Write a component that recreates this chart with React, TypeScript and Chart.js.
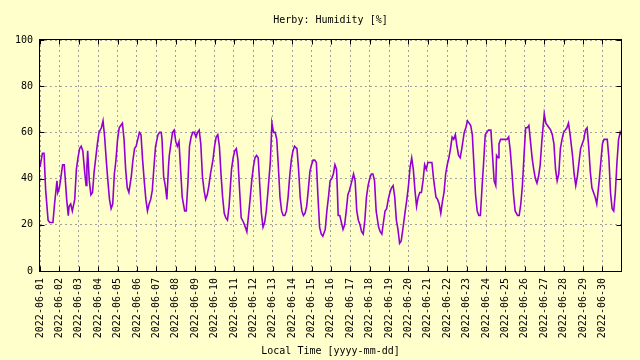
import React, { useEffect, useRef } from 'react';
import { Chart, registerables } from 'chart.js';

Chart.register(...registerables);

const TITLE = 'Herby: Humidity [%]';
const X_TITLE = 'Local Time [yyyy-mm-dd]';

const DAY_LABELS = [
  '2022-06-01', '2022-06-02', '2022-06-03', '2022-06-04', '2022-06-05',
  '2022-06-06', '2022-06-07', '2022-06-08', '2022-06-09', '2022-06-10',
  '2022-06-11', '2022-06-12', '2022-06-13', '2022-06-14', '2022-06-15',
  '2022-06-16', '2022-06-17', '2022-06-18', '2022-06-19', '2022-06-20',
  '2022-06-21', '2022-06-22', '2022-06-23', '2022-06-24', '2022-06-25',
  '2022-06-26', '2022-06-27', '2022-06-28', '2022-06-29', '2022-06-30',
];

const Y_TICKS = [0, 20, 40, 60, 80, 100];

// hours since 2022-06-01 00:00 local time
const HOURS = [
  0, 3, 5, 7, 10, 12, 16, 18, 21, 22, 24, 26, 28, 30, 31, 33, 35, 36, 38, 40,
  43, 45, 47, 49, 51, 53, 55, 57, 58, 59, 61, 63, 65, 67, 69, 71, 73, 76, 78, 80,
  82, 84, 86, 88, 90, 92, 94, 96, 98, 100, 102, 104, 106, 108, 110, 113, 115, 117, 119, 121,
  123, 125, 127, 129, 131, 133, 135, 137, 139, 141, 143, 146, 148, 150, 151, 153, 155, 157, 159, 160,
  162, 164, 166, 168, 170, 172, 174, 176, 179, 181, 183, 185, 187, 189, 191, 193, 195, 197, 199, 201,
  203, 205, 207, 209, 211, 214, 216, 218, 220, 222, 224, 226, 228, 230, 232, 234, 237, 239, 241, 243,
  245, 247, 249, 252, 254, 256, 258, 260, 262, 264, 266, 268, 270, 272, 274, 276, 278, 280, 282, 285,
  287, 289, 291, 293, 295, 297, 299, 301, 303, 305, 307, 309, 311, 313, 315, 318, 320, 322, 324, 326,
  328, 330, 332, 334, 336, 338, 340, 342, 344, 346, 348, 350, 353, 355, 357, 359, 361, 363, 365, 367,
  368, 369, 371, 373, 375, 377, 379, 381, 383, 386, 388, 390, 392, 394, 396, 398, 400, 402, 404, 406,
  408, 410, 412, 414, 416, 419, 421, 423, 425, 427, 429, 431, 433, 435, 437, 439, 441, 443, 445, 447,
  449, 452, 454, 456, 458, 460, 462, 464, 466, 468, 470, 472, 474, 476, 478, 480, 483, 485, 487, 490,
  492, 494, 496, 498, 500, 502, 504, 506, 508, 510, 512, 514, 516, 518, 520, 522, 525, 527, 529, 531,
  533, 535, 537, 539, 541, 543, 545, 547, 549, 551, 553, 555, 558, 560, 562, 564, 565, 567, 568, 570,
  572, 574, 576, 578, 580, 582, 584, 586, 588, 591, 593, 595, 597, 599, 601, 603, 605, 607, 609, 611,
  613, 615, 617, 619, 621, 624, 626, 628, 630, 632, 634, 636, 638, 640, 642, 644, 646, 648, 650, 652,
  654, 656, 659, 661, 663, 665, 667, 669, 671, 673, 675, 677, 679, 681, 683, 685, 687, 689, 692, 694,
  696, 698, 700, 702, 704, 706, 708, 710, 712, 714, 716, 718, 719,
];

const HUMIDITY = [
  45, 51, 51, 35, 22, 21, 21, 29, 39, 34, 36, 41, 46, 46, 41, 31, 24, 28, 29, 26,
  31, 44, 49, 53, 54, 52, 44, 37, 45, 52, 39, 33, 34, 43, 49, 55, 60, 62, 65, 58,
  48, 39, 31, 27, 29, 42, 48, 57, 62, 63, 64, 57, 44, 36, 34, 41, 48, 53, 54, 57,
  60, 59, 48, 39, 31, 26, 29, 31, 35, 45, 54, 59, 60, 60, 57, 41, 37, 31, 45, 50,
  55, 60, 61, 56, 54, 56, 44, 32, 26, 26, 38, 54, 58, 60, 60, 58, 60, 61, 55, 41,
  35, 31, 33, 37, 42, 48, 54, 58, 59, 54, 42, 32, 25, 23, 22, 28, 44, 49, 52, 53,
  48, 35, 23, 21, 19, 17, 24, 31, 39, 45, 49, 50, 49, 37, 25, 19, 21, 26, 34, 47,
  64, 60, 60, 57, 45, 32, 26, 24, 24, 26, 32, 41, 48, 52, 54, 53, 44, 32, 26, 24,
  25, 28, 35, 43, 46, 48, 48, 47, 32, 19, 16, 15, 18, 26, 32, 39, 40, 42, 46, 44,
  35, 24, 24, 21, 18, 20, 26, 33, 35, 39, 42, 39, 26, 22, 20, 17, 16, 22, 32, 37,
  40, 42, 42, 39, 26, 19, 17, 16, 21, 26, 27, 31, 34, 36, 37, 32, 22, 18, 12, 13,
  18, 26, 31, 37, 45, 49, 44, 35, 28, 32, 34, 34, 39, 46, 44, 47, 47, 47, 40, 32,
  31, 29, 25, 30, 34, 42, 46, 49, 53, 58, 57, 59, 54, 50, 49, 53, 60, 62, 65, 64,
  63, 59, 46, 33, 26, 24, 24, 36, 47, 59, 60, 61, 61, 50, 39, 37, 50, 49, 55, 57,
  57, 57, 57, 57, 58, 52, 43, 33, 26, 24, 24, 29, 37, 50, 62, 62, 63, 56, 49, 44,
  40, 38, 41, 46, 56, 68, 64, 63, 62, 61, 59, 55, 44, 39, 42, 53, 57, 60, 61, 62,
  64, 59, 50, 42, 37, 41, 47, 53, 55, 57, 61, 62, 54, 43, 36, 34, 32, 29, 39, 47,
  55, 57, 57, 57, 49, 34, 27, 26, 34, 47, 57, 60, 59,
];

const X_MAX = 719;
const FONT = 'DejaVu Sans Mono';
const BG = '#ffffcc';

export default function App() {
  const ref = useRef<HTMLCanvasElement>(null);

  useEffect(() => {
    const canvas = ref.current;
    if (!canvas) return;
    const points = HOURS.map((h, i) => ({ x: h, y: HUMIDITY[i] }));

    const gnuplotFrame = {
      id: 'gnuplotFrame',
      beforeDraw(chart: any) {
        const c = chart.ctx;
        c.save();
        c.fillStyle = BG;
        c.fillRect(0, 0, chart.width, chart.height);
        c.restore();
      },
      afterDraw(chart: any) {
        const c = chart.ctx;
        const a = chart.chartArea;
        const xs = chart.scales.x;
        const ys = chart.scales.y;
        const L = Math.round(a.left) - 0.5;
        const R = Math.round(a.right) + 0.5;
        const T = Math.round(a.top) - 0.5;
        const B = Math.round(a.bottom) + 0.5;
        c.save();
        c.strokeStyle = '#000';
        c.lineWidth = 1;
        c.setLineDash([]);
        c.beginPath();
        DAY_LABELS.forEach((_, i) => {
          const px = Math.round(xs.getPixelForValue(i * 24)) + 0.5;
          c.moveTo(px, B);
          c.lineTo(px, B - 5);
          c.moveTo(px, T);
          c.lineTo(px, T + 5);
        });
        Y_TICKS.forEach((v) => {
          const py = Math.round(ys.getPixelForValue(v)) + 0.5;
          c.moveTo(L, py);
          c.lineTo(L + 5, py);
          c.moveTo(R, py);
          c.lineTo(R - 5, py);
        });
        c.stroke();
        c.strokeRect(L, T, R - L, B - T);
        c.fillStyle = '#000';
        c.font = `10px "${FONT}"`;
        c.textAlign = 'center';
        c.textBaseline = 'middle';
        c.fillText(TITLE, (a.left + a.right) / 2, 20);
        c.restore();
      },
    };

    const chart = new Chart(canvas, {
      type: 'line',
      data: {
        datasets: [
          {
            data: points,
            borderColor: '#9400d3',
            borderWidth: 1.6,
            pointRadius: 0,
            fill: false,
            tension: 0,
          },
        ],
      },
      options: {
        animation: false,
        responsive: false,
        maintainAspectRatio: false,
        parsing: false as any,
        layout: { padding: { top: 40, right: 19, left: 0, bottom: 0 } },
        plugins: {
          legend: { display: false },
          tooltip: { enabled: false },
          title: { display: false },
        },
        scales: {
          x: {
            type: 'linear',
            min: 0,
            max: X_MAX,
            afterBuildTicks: (s: any) => {
              s.ticks = DAY_LABELS.map((_, i) => ({ value: i * 24 }));
            },
            afterFit: (s: any) => {
              s.height = 89;
            },
            ticks: {
              autoSkip: false,
              minRotation: 90,
              maxRotation: 90,
              padding: 7,
              color: '#000',
              font: { family: FONT, size: 10 },
              callback: (v: any) => DAY_LABELS[Math.round(Number(v) / 24)] ?? '',
            },
            grid: { color: '#a0a0a0', lineWidth: 1, drawTicks: false },
            border: { display: false, dash: [2, 3] },
            title: {
              display: true,
              text: X_TITLE,
              color: '#000',
              font: { family: FONT, size: 10 },
              padding: { top: 0, bottom: 3 },
            },
          },
          y: {
            type: 'linear',
            min: 0,
            max: 100,
            afterBuildTicks: (s: any) => {
              s.ticks = Y_TICKS.map((v) => ({ value: v }));
            },
            afterFit: (s: any) => {
              s.width = 40;
            },
            ticks: {
              padding: 7,
              color: '#000',
              font: { family: FONT, size: 10 },
            },
            grid: { color: '#a0a0a0', lineWidth: 1, drawTicks: false },
            border: { display: false, dash: [2, 3] },
          },
        },
      },
      plugins: [gnuplotFrame],
    });

    return () => chart.destroy();
  }, []);

  return (
    <div style={{ position: 'fixed', left: 0, top: 0, width: 640, height: 360, background: BG }}>
      <canvas ref={ref} width={640} height={360} style={{ display: 'block' }} />
    </div>
  );
}
